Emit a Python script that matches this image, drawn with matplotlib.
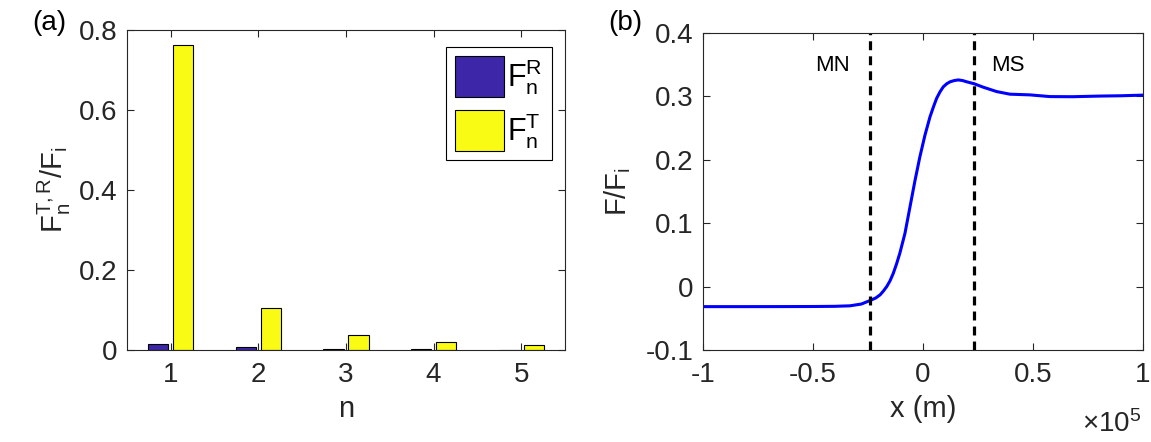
import matplotlib
matplotlib.use("Agg")
import matplotlib.pyplot as plt
import numpy as np

plt.rcParams['font.family'] = ['Liberation Sans', 'DejaVu Sans']
plt.rcParams['mathtext.fontset'] = 'custom'
plt.rcParams['mathtext.rm'] = 'Liberation Sans'
plt.rcParams['mathtext.it'] = 'Liberation Sans'

# ---- data panel (a)
n_vals = [1, 2, 3, 4, 5]
F_R = [0.015, 0.008, 0.003, 0.0015, 0.001]
F_T = [0.762, 0.104, 0.0375, 0.021, 0.0125]

# ---- data panel (b)
x_vals = [-1.0, -0.8, -0.6, -0.5, -0.4, -0.332, -0.28, -0.241, -0.215, -0.195, -0.18, -0.165,
          -0.15, -0.135, -0.12, -0.105, -0.082, -0.059, -0.036, -0.014, 0.009, 0.032, 0.048,
          0.062, 0.077, 0.092, 0.108, 0.123, 0.142, 0.161, 0.18, 0.199, 0.232, 0.274, 0.335,
          0.395, 0.486, 0.577, 0.68, 0.8, 0.9, 1.0]
F_vals = [-0.0316, -0.0316, -0.0315, -0.0314, -0.0311, -0.0303, -0.0275, -0.022, -0.018,
          -0.013, -0.007, 0.0, 0.009, 0.021, 0.036, 0.053, 0.084, 0.126, 0.168, 0.205, 0.239,
          0.268, 0.284, 0.297, 0.307, 0.315, 0.320, 0.323, 0.325, 0.326, 0.325, 0.323, 0.320,
          0.3145, 0.3076, 0.3035, 0.3024, 0.2997, 0.2995, 0.3005, 0.301, 0.302]
x_MN = -0.241
x_MS = 0.232

blue = (0.2422, 0.1504, 0.6603)
yellow = (0.9769, 0.9839, 0.0805)
axcol = (0.15, 0.15, 0.15)

fig = plt.figure(figsize=(11.51, 4.42), dpi=100)
ax1 = fig.add_axes([127/1151, 1-350/442, (565-127)/1151, (350-30)/442])
ax2 = fig.add_axes([703/1151, 1-350/442, (1143-703)/1151, (350-33)/442])

fs = 20
lfs = 21
for ax in (ax1, ax2):
    ax.tick_params(direction='in', top=True, right=True, length=5, width=0.8,
                   labelsize=fs, colors=axcol, labelcolor=axcol)
    ax.tick_params(axis='x', pad=9)
    ax.tick_params(axis='y', pad=7)
    for s in ax.spines.values():
        s.set_color(axcol)
        s.set_linewidth(0.8)

# panel (a)
n = np.array(n_vals)
w = 0.23
ax1.bar(n - 0.143, F_R, width=w, color=blue, edgecolor='black', linewidth=0.8,
        label=r'$\mathregular{F_n^R}$')
ax1.bar(n + 0.143, F_T, width=w, color=yellow, edgecolor='black', linewidth=0.8,
        label=r'$\mathregular{F_n^T}$')
ax1.set_xlim(0.5, 5.5)
ax1.set_ylim(0, 0.8)
ax1.set_xticks(n_vals)
ax1.set_yticks([0, 0.2, 0.4, 0.6, 0.8])
ax1.set_yticklabels(['0', '0.2', '0.4', '0.6', '0.8'])
ax1.set_xlabel('n', fontsize=lfs, color=axcol, labelpad=5)
ax1.set_ylabel(r'$\mathregular{F_n^{T,R}/F_i}$', fontsize=lfs, color=axcol, labelpad=4)
leg = ax1.legend(loc='upper right', fontsize=22, handlelength=1.6, handleheight=1.7,
                 borderpad=0.3, labelspacing=0.4, handletextpad=0.12,
                 borderaxespad=0.0,
                 fancybox=False, edgecolor='black', framealpha=1,
                 bbox_to_anchor=(0.97, 0.947))
leg.get_frame().set_linewidth(0.8)
fig.text(32/1151, 1-23/442, '(a)', fontsize=fs, va='center', ha='left')

# panel (b)
ax2.plot(x_vals, F_vals, color=(0, 0, 1), linewidth=2.2)
ax2.axvline(x_MN, color='black', linestyle=(0, (2.8, 1.9)), linewidth=2.3)
ax2.axvline(x_MS, color='black', linestyle=(0, (2.8, 1.9)), linewidth=2.3)
ax2.set_xlim(-1, 1)
ax2.set_ylim(-0.1, 0.4)
ax2.set_xticks([-1, -0.5, 0, 0.5, 1])
ax2.set_xticklabels(['-1', '-0.5', '0', '0.5', '1'])
ax2.set_yticks([-0.1, 0, 0.1, 0.2, 0.3, 0.4])
ax2.set_yticklabels(['-0.1', '0', '0.1', '0.2', '0.3', '0.4'])
ax2.set_xlabel('x (m)', fontsize=lfs, color=axcol, labelpad=5)
ax2.set_ylabel(r'$\mathregular{F/F_i}$', fontsize=lfs, color=axcol, labelpad=9)
ax2.text(-0.41, 0.348, 'MN', fontsize=16, ha='center', va='center')
ax2.text(0.386, 0.348, 'MS', fontsize=16, ha='center', va='center')
fig.text(1141/1151, 1-424/442, r'$\mathregular{\times10^5}$', fontsize=fs,
         ha='right', va='center', color=axcol)
fig.text(608/1151, 1-23/442, '(b)', fontsize=fs, va='center', ha='left')

fig.savefig('out.png', dpi=100)
